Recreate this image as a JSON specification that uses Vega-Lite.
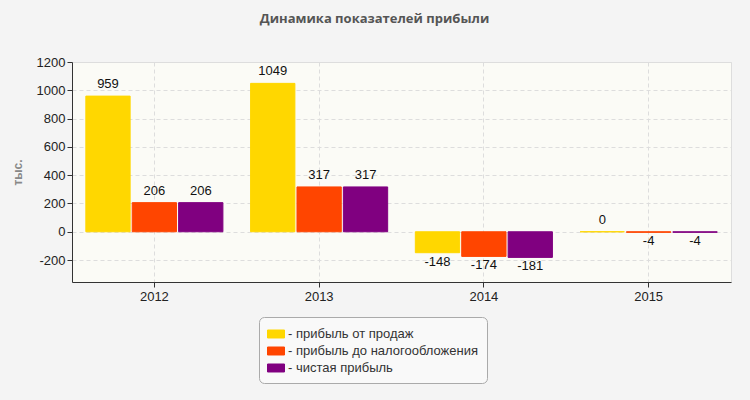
{
  "$schema": "https://vega.github.io/schema/vega-lite/v6.json",
  "autosize": {"type": "none"},
  "padding": {"left": 72, "top": 62, "right": 19, "bottom": 118},
  "width": 659,
  "height": 220,
  "background": "#f4f4f4",
  "title": {
    "text": "Динамика показателей прибыли",
    "font": "Open Sans",
    "fontSize": 13,
    "fontWeight": "bold",
    "color": "#555555",
    "anchor": "middle",
    "dx": -27,
    "offset": 30
  },
  "config": {
    "view": {"fill": "#fbfbf6", "stroke": "#dddddd", "strokeWidth": 1},
    "axis": {
      "labelFont": "Liberation Sans",
      "labelFontSize": 13,
      "labelColor": "#222222",
      "domainColor": "#333333",
      "tickColor": "#333333",
      "tickSize": 5,
      "gridColor": "#dddddd",
      "gridDash": [4, 3],
      "gridWidth": 1
    },
    "legend": {
      "labelFont": "Liberation Sans",
      "labelFontSize": 13,
      "labelColor": "#333333",
      "labelLimit": 400
    }
  },
  "data": {
    "values": [
      {"year": "2012", "series": "прибыль от продаж", "value": 959},
      {"year": "2012", "series": "прибыль до налогообложения", "value": 206},
      {"year": "2012", "series": "чистая прибыль", "value": 206},
      {"year": "2013", "series": "прибыль от продаж", "value": 1049},
      {"year": "2013", "series": "прибыль до налогообложения", "value": 317},
      {"year": "2013", "series": "чистая прибыль", "value": 317},
      {"year": "2014", "series": "прибыль от продаж", "value": -148},
      {"year": "2014", "series": "прибыль до налогообложения", "value": -174},
      {"year": "2014", "series": "чистая прибыль", "value": -181},
      {"year": "2015", "series": "прибыль от продаж", "value": 0},
      {"year": "2015", "series": "прибыль до налогообложения", "value": -4},
      {"year": "2015", "series": "чистая прибыль", "value": -4}
    ]
  },
  "encoding": {
    "x": {
      "field": "year",
      "type": "nominal",
      "scale": {"paddingInner": 0.168, "paddingOuter": 0.084},
      "axis": {
        "title": null,
        "labelAngle": 0,
        "labelPadding": 3,
        "grid": true,
        "bandPosition": 0.5
      }
    },
    "xOffset": {
      "field": "series",
      "type": "nominal",
      "scale": {
        "domain": ["прибыль от продаж", "прибыль до налогообложения", "чистая прибыль"],
        "paddingInner": 0.045,
        "paddingOuter": 0
      }
    },
    "y": {
      "field": "value",
      "type": "quantitative",
      "scale": {"domain": [-355, 1200], "nice": false, "zero": false},
      "axis": {
        "title": "тыс.",
        "titleFont": "Liberation Sans",
        "titleFontSize": 12,
        "titleFontWeight": "bold",
        "titleColor": "#888888",
        "titlePadding": 12,
        "values": [-200, 0, 200, 400, 600, 800, 1000, 1200],
        "labelExpr": "'' + datum.value",
        "grid": true
      }
    }
  },
  "layer": [
    {
      "mark": {"type": "bar", "strokeWidth": 1},
      "encoding": {
        "y2": {"datum": 0},
        "stroke": {
          "field": "series",
          "type": "nominal",
          "scale": {
            "domain": ["прибыль от продаж", "прибыль до налогообложения", "чистая прибыль"],
            "range": ["#FFD700", "#FF4500", "#800080"]
          },
          "legend": null
        },
        "color": {
          "field": "series",
          "type": "nominal",
          "scale": {
            "domain": ["прибыль от продаж", "прибыль до налогообложения", "чистая прибыль"],
            "range": ["#FFD700", "#FF4500", "#800080"]
          },
          "legend": {
            "title": null,
            "orient": "none",
            "legendX": 187,
            "legendY": 255,
            "direction": "vertical",
            "padding": 8,
            "fillColor": "#f9f9f9",
            "strokeColor": "#aaaaaa",
            "cornerRadius": 5,
            "rowPadding": 1,
            "symbolType": "M-1,-0.47L1,-0.47L1,0.47L-1,0.47Z",
            "symbolSize": 289,
            "symbolStrokeColor": "#999999",
            "symbolStrokeWidth": 1,
            "symbolOpacity": 1,
            "labelOffset": 3,
            "labelExpr": "'- ' + datum.label"
          }
        }
      }
    },
    {
      "transform": [{"filter": "datum.value >= 0"}],
      "mark": {
        "type": "text",
        "baseline": "bottom",
        "dy": -5,
        "font": "Liberation Sans",
        "fontSize": 13,
        "color": "#111111"
      },
      "encoding": {"text": {"field": "value", "type": "nominal"}}
    },
    {
      "transform": [{"filter": "datum.value < 0"}],
      "mark": {
        "type": "text",
        "baseline": "top",
        "dy": 3,
        "font": "Liberation Sans",
        "fontSize": 13,
        "color": "#111111"
      },
      "encoding": {"text": {"field": "value", "type": "nominal"}}
    }
  ]
}
